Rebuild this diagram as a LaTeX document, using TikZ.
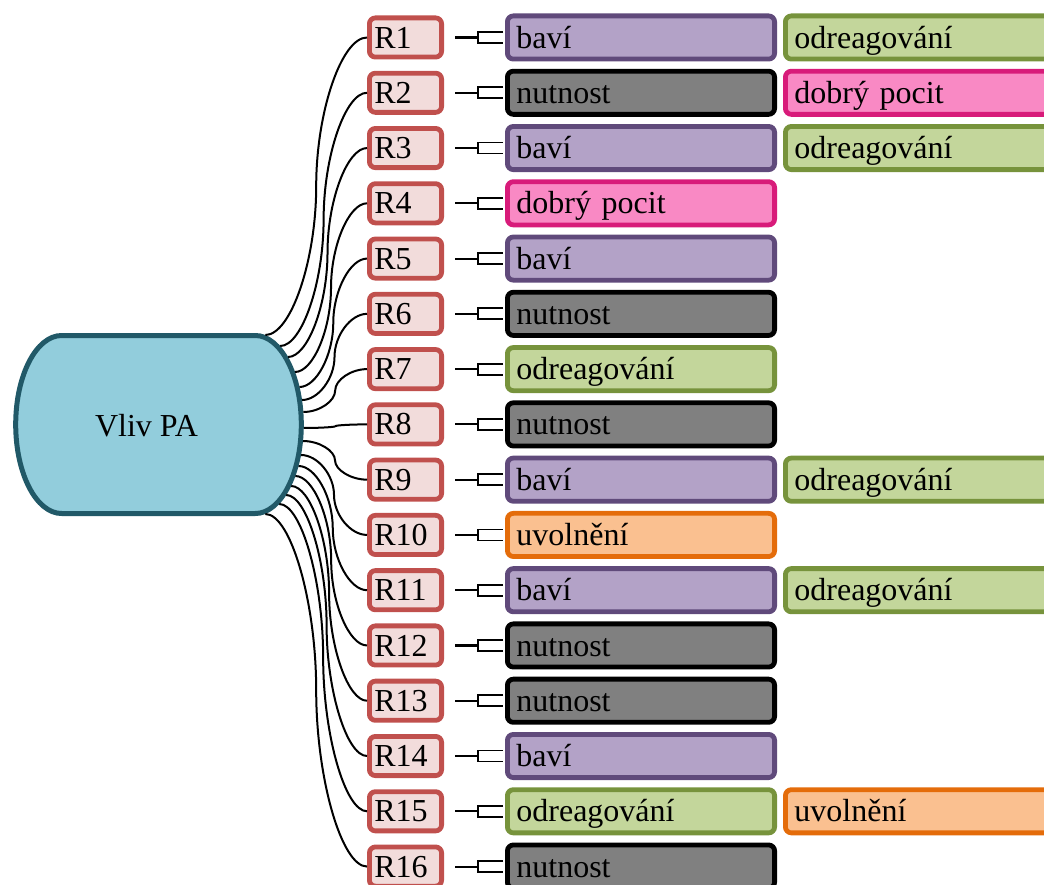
\documentclass[tikz,border=0pt]{standalone}
\usepackage{fontspec}
\setmainfont{Liberation Serif}
\usetikzlibrary{calc}
\definecolor{rfill}{HTML}{F2DCDB}
\definecolor{rborder}{HTML}{C0504D}
\definecolor{vfill}{HTML}{92CDDC}
\definecolor{vborder}{HTML}{215968}
\definecolor{baviF}{HTML}{B3A2C7}
\definecolor{baviB}{HTML}{604A7B}
\definecolor{nutF}{HTML}{808080}
\definecolor{nutB}{HTML}{000000}
\definecolor{odreF}{HTML}{C3D69B}
\definecolor{odreB}{HTML}{77933C}
\definecolor{dobF}{HTML}{F989C4}
\definecolor{dobB}{HTML}{D81B7A}
\definecolor{uvolF}{HTML}{FAC090}
\definecolor{uvolB}{HTML}{E46C0A}
\tikzset{
  base/.style={rectangle, rounded corners=6pt, line width=4.8pt,
    font=\fontsize{32}{38}\selectfont, text height=21.2pt, text depth=0pt,
    inner ysep=0pt, align=left},
  rbox/.style={base, draw=rborder, fill=rfill, minimum height=39.2pt,
    text width=62.2pt, inner xsep=5pt, anchor=west},
  catbox/.style={base, minimum height=43.2pt, text width=249.2pt, inner xsep=9pt, anchor=west},
  bavi/.style={catbox, draw=baviB, fill=baviF},
  nut/.style={catbox, draw=nutB, fill=nutF},
  odre/.style={catbox, draw=odreB, fill=odreF},
  dob/.style={catbox, draw=dobB, fill=dobF},
  uvol/.style={catbox, draw=uvolB, fill=uvolF},
  vlivshape/.style={line width=5pt, draw=vborder, fill=vfill},
  vlivtext/.style={font=\fontsize{32}{38}\selectfont, text height=21.2pt, text depth=0pt, inner sep=0pt},
  curve/.style={line width=2pt, black},
  fork/.style={line width=2.1pt, black},
  forkbr/.style={line width=1.8pt, black}
}
\begin{document}
\begin{tikzpicture}[x=1pt, y=-1pt]
\useasboundingbox (0,0) rectangle (1044,885);
\clip (0,0) rectangle (1044,885);
% central terminator shape
\filldraw[vlivshape] (61.7,335.5) -- (255.3,335.5)
  arc[start angle=90, end angle=-90, x radius=46pt, y radius=89pt]
  -- (61.7,513.5)
  arc[start angle=270, end angle=90, x radius=46pt, y radius=89pt] -- cycle;
\node[vlivtext] (vliv) at (146.5,426) {Vliv PA};
% start points on the border
\foreach \i/\yy in {1/335,2/346,3/357,4/372,5/387,6/400,7/412,8/428,9/441,10/455,11/466,12/476,13/486,14/495,15/504,16/514}{
  \pgfmathsetmacro\xx{255.3+48.5*sqrt(max(0,1-((\yy-424.5)/91.5)^2))}
  \coordinate (s\i) at (\xx,\yy);
}
% rows
\foreach \i/\sa/\ta in {1/bavi/baví, 2/nut/nutnost, 3/bavi/baví, 4/dob/dobrý pocit,
  5/bavi/baví, 6/nut/nutnost, 7/odre/odreagování, 8/nut/nutnost, 9/bavi/baví,
  10/uvol/uvolnění, 11/bavi/baví, 12/nut/nutnost, 13/nut/nutnost, 14/bavi/baví,
  15/odre/odreagování, 16/nut/nutnost}{
  \pgfmathsetmacro\ry{37.5+(\i-1)*55.27}
  \node[rbox] (r\i) at (367,\ry) {R\i};
  \node[\sa] (c\i) at (505,\ry) {\ta};
  \draw[fork] ([xshift=11pt]r\i.east) -- ([xshift=-27pt]c\i.west);
  \draw[forkbr] ([xshift=-2pt,yshift=5.5pt]c\i.west) -| ([xshift=-27pt,yshift=-5.5pt]c\i.west)
    -- ([xshift=-2pt,yshift=-5.5pt]c\i.west);
  \draw[curve] let \p1=(s\i), \p2=(r\i.west) in
    (\p1) .. controls ({(3*\x1+\x2)/4},\y1) and ({(\x1+\x2)/2},{(3*\y1+\y2)/4})
    .. ({(\x1+\x2)/2},{(\y1+\y2)/2})
    .. controls ({(\x1+\x2)/2},{(\y1+3*\y2)/4}) and ({(\x1+3*\x2)/4},\y2) .. (\p2);
}
% second column
\foreach \i/\sb/\tb in {1/odre/odreagování, 2/dob/dobrý pocit, 3/odre/odreagování,
  9/odre/odreagování, 11/odre/odreagování, 15/uvol/uvolnění}{
  \node[\sb] (d\i) at ([xshift=278pt]c\i.west) {\tb};
}
\end{tikzpicture}
\end{document}
